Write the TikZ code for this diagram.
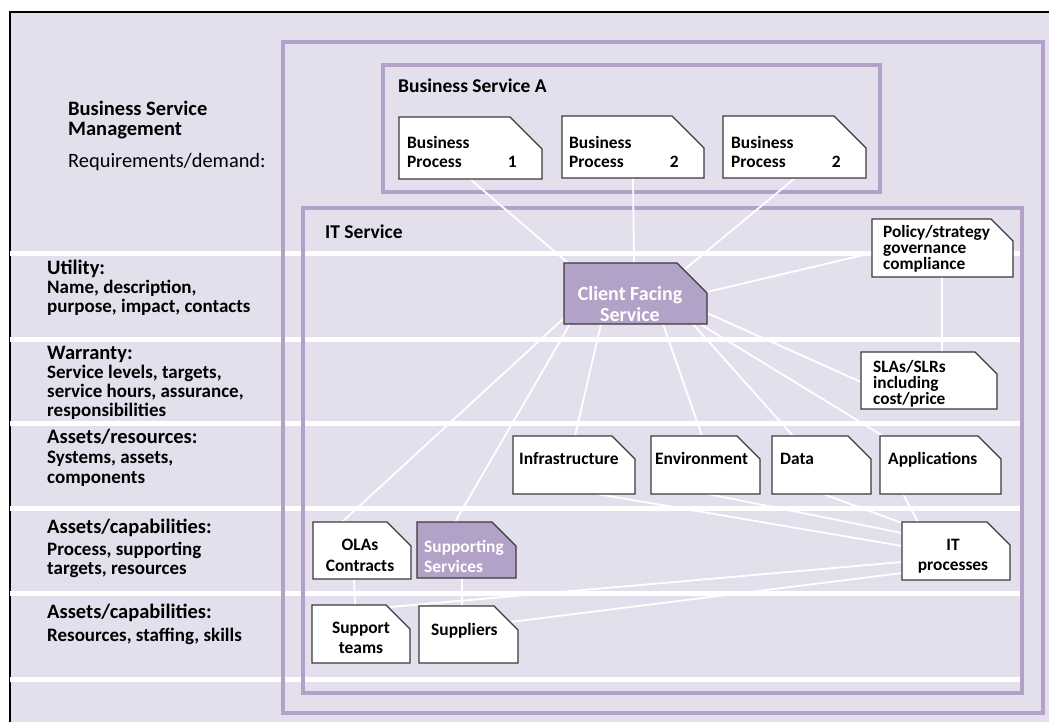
\documentclass[tikz,border=0pt]{standalone}
\usepackage{fontspec}
\setmainfont{Carlito}
\usetikzlibrary{fit,calc}
\definecolor{bg}{HTML}{E4DFEC}
\definecolor{pur}{HTML}{B3A2C7}
\definecolor{edgec}{HTML}{3A3A3A}
\pgfdeclarelayer{lines}
\pgfdeclarelayer{bgl}
\pgfsetlayers{bgl,lines,main}
\newcommand\cbox[7]{%
  \filldraw[fill=#7, draw=edgec, line width=1.2pt, line join=miter] (#2,#3) -- ({#4-#6},#3) -- (#4,{#3+#6}) -- (#4,#5) -- (#2,#5) -- cycle;
  \node[fit={(#2,#3)(#4,#5)}, inner sep=0pt, outer sep=0pt] (#1) {};
}
\tikzset{
  head/.style={anchor=base west, inner sep=0pt, align=left, font=\bfseries\fontsize{20.5}{20}\selectfont},
  sub/.style={anchor=base west, inner sep=0pt, align=left, font=\bfseries\fontsize{19}{19}\selectfont},
  regl/.style={anchor=base west, inner sep=0pt, font=\fontsize{20.4}{20}\selectfont},
  btxt/.style={anchor=base west, inner sep=0pt, align=left, font=\bfseries\fontsize{17.4}{20}\selectfont},
  ctxt/.style={anchor=base, inner sep=0pt, align=center, font=\bfseries\fontsize{17.4}{20}\selectfont},
  band/.style={white, line width=5pt},
  cont/.style={draw=pur, line width=4pt},
  conn/.style={white, line width=1.8pt},
}
\begin{document}
\begin{tikzpicture}[x=1pt,y=-1pt]
\useasboundingbox (0,0) rectangle (1049,722);
\begin{pgfonlayer}{bgl}
\fill[bg] (10,12) rectangle (1049,722);
\draw[black, line width=1.6pt] (10,722) -- (10,12) -- (1049,12);
\foreach \yy in {253,339,423,508,593,679} \draw[band] (10,\yy) -- (1020,\yy);
\draw[cont] (283,42) rectangle (1043,713);
\draw[cont] (383,65) rectangle (880,192);
\draw[cont] (303,208) rectangle (1022,693);
\end{pgfonlayer}

% left labels
\node[head] (bsm) at (68,136) {Business Service\\Management};
\node[regl] (req) at (68,168) {Requirements/demand:};
\node[head] (uh) at (47,274) {Utility:};
\node[sub, font=\bfseries\fontsize{19}{18.5}\selectfont] (us) at (47,312) {Name, description,\\purpose, impact, contacts};
\node[head] (wh) at (47,359) {Warranty:};
\node[sub] (ws) at (47,416) {Service levels, targets,\\service hours, assurance,\\responsibilities};
\node[head] (ah) at (47,443) {Assets/resources:};
\node[sub, font=\bfseries\fontsize{19}{20}\selectfont] (as) at (47,483) {Systems, assets,\\components};
\node[head] (ch) at (47,533) {Assets/capabilities:};
\node[sub] (cs) at (47,574) {Process, supporting\\targets, resources};
\node[head] (dh) at (47,618) {Assets/capabilities:};
\node[sub] (ds) at (47,641) {Resources, staffing, skills};

\node[head, font=\bfseries\fontsize{19.5}{20}\selectfont] (bsa) at (398,93) {Business Service A};
\node[head, font=\bfseries\fontsize{19.5}{20}\selectfont] (its) at (325,238) {IT Service};

% boxes
\cbox{bp1}{399}{117}{542}{179}{32}{white}
\cbox{bp2}{562}{116}{704}{178}{32}{white}
\cbox{bp3}{723}{116}{866}{178}{32}{white}
\cbox{cfs}{564}{263}{707}{324}{30}{pur}
\cbox{pol}{872}{219}{1013}{277}{22}{white}
\cbox{sla}{861}{352}{997}{409}{22}{white}
\cbox{inf}{513}{436}{635}{494}{23}{white}
\cbox{env}{651}{436}{760}{494}{23}{white}
\cbox{dat}{772}{436}{871}{494}{23}{white}
\cbox{app}{880}{436}{1001}{494}{23}{white}
\cbox{itp}{902}{522}{1010}{580}{23}{white}
\cbox{ola}{313}{522}{411}{579}{24}{white}
\cbox{sup}{417}{522}{516}{578}{24}{pur}
\cbox{stm}{312}{605}{410}{663}{24}{white}
\cbox{spl}{419}{606}{518}{663}{24}{white}

% box texts
\node[btxt] (bp1t) at (407,168) {Business\\Process};
\node[btxt, anchor=base east] (bp1n) at (517,168) {1};
\node[btxt] (bp2t) at (569,168) {Business\\Process};
\node[btxt, anchor=base east] (bp2n) at (679,168) {2};
\node[btxt] (bp3t) at (731,168) {Business\\Process};
\node[btxt, anchor=base east] (bp3n) at (841,168) {2};
\node[ctxt, text=white, font=\bfseries\fontsize{20}{21}\selectfont] (cfst) at (630,321) {Client Facing\\Service};
\node[btxt, font=\bfseries\fontsize{17.3}{16}\selectfont] (polt) at (883,269) {Policy/strategy\\governance\\compliance};
\node[btxt, font=\bfseries\fontsize{17.3}{16}\selectfont] (slat) at (873,404) {SLAs/SLRs\\including\\cost/price};
\node[btxt] (inft) at (519,464) {Infrastructure};
\node[btxt] (envt) at (655,464) {Environment};
\node[btxt] (datt) at (780,464) {Data};
\node[btxt] (appt) at (888,464) {Applications};
\node[ctxt] (itpt) at (953,570) {IT\\processes};
\node[ctxt, font=\bfseries\fontsize{17.4}{21}\selectfont] (olat) at (360,571) {OLAs\\Contracts};
\node[btxt, text=white] (supt) at (424,572) {Supporting\\Services};
\node[ctxt] (stmt) at (361,653) {Support\\teams};
\node[btxt] (splt) at (431,635) {Suppliers};

% connectors
\begin{pgfonlayer}{lines}
\draw[conn] ($(bp1.south west)+(71,0)$) -- ($(cfs.north west)+(4,0)$);
\draw[conn] ($(bp2.south west)+(71,0)$) -- ($(cfs.north west)+(70,0)$);
\draw[conn] ($(bp3.south west)+(72,0)$) -- ($(cfs.north east)+(-23,7)$);
\draw[conn] ($(pol.south west)+(0,-24)$) -- ($(cfs.north east)+(0,29)$);
\draw[conn] ($(pol.south west)+(70,0)$) -- ($(sla.north west)+(81,0)$);
\draw[conn] ($(cfs.south east)+(0,-11)$) -- ($(sla.north west)+(0,30)$);
\draw[conn] ($(cfs.south east)+(-7,0)$) -- ($(app.north west)+(3,0)$);
\draw[conn] ($(cfs.south east)+(-14,0)$) -- ($(dat.north west)+(21,0)$);
\draw[conn] ($(cfs.south west)+(99,0)$) -- ($(env.north west)+(51,0)$);
\draw[conn] ($(cfs.south west)+(37,0)$) -- ($(inf.north west)+(62,0)$);
\draw[conn] ($(cfs.south west)+(6,0)$) -- ($(sup.north west)+(38,0)$);
\draw[conn] ($(cfs.south west)+(0,-6)$) -- ($(ola.north west)+(29,0)$);
\draw[conn] ($(ola.south west)+(41,0)$) -- ($(stm.north west)+(43,0)$);
\draw[conn] ($(sup.south west)+(45,0)$) -- ($(spl.north west)+(43,0)$);
\draw[conn] ($(inf.south west)+(84,0)$) -- ($(itp.north west)+(0,24)$);
\draw[conn] ($(env.south west)+(57,0)$) -- ($(itp.north west)+(0,11)$);
\draw[conn] ($(dat.south west)+(51,0)$) -- ($(itp.north west)+(0,1)$);
\draw[conn] ($(app.south west)+(23,0)$) -- ($(itp.north west)+(16,0)$);
\draw[conn] ($(itp.north west)+(0,40)$) -- ($(stm.north east)+(-20,2)$);
\draw[conn] ($(itp.north west)+(0,51)$) -- ($(spl.north east)+(-8,16)$);
\end{pgfonlayer}
\end{tikzpicture}
\end{document}
